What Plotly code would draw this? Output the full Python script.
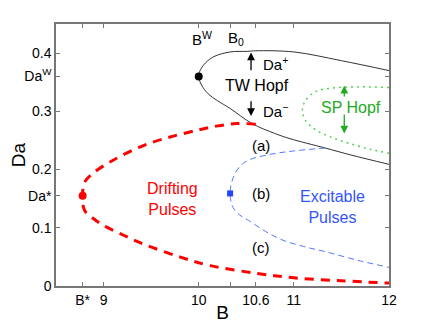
import plotly.graph_objects as go

# TW Hopf curve (black), from the upper right round the nose to the lower right
tw_b = [12.0, 11.5, 11.0, 10.6, 10.51, 10.33, 10.16, 10.07, 10.02, 10.0,
        10.03, 10.1, 10.2, 10.33, 10.56, 10.8, 10.96, 11.33, 11.6, 12.0]
tw_da = [0.370, 0.387, 0.402, 0.404, 0.403, 0.402, 0.394, 0.383, 0.372, 0.360,
         0.345, 0.330, 0.318, 0.305, 0.279, 0.262, 0.253, 0.237, 0.225, 0.209]

# drifting pulses boundary (red)
red_b = [10.6, 10.4, 10.2, 10.0, 9.7, 9.4, 9.1, 8.9, 8.8, 8.78,
         8.8, 8.9, 9.0, 9.2, 9.42, 9.8, 10.12, 10.6, 11.0, 11.5, 12.0]
red_da = [0.278, 0.279, 0.275, 0.268, 0.256, 0.240, 0.216, 0.195, 0.178, 0.155,
          0.130, 0.115, 0.104, 0.088, 0.072, 0.050, 0.035, 0.022, 0.014, 0.009, 0.005]

# excitable pulses boundary (blue)
blue_b = [11.33, 11.0, 10.75, 10.52, 10.43, 10.36, 10.33,
          10.36, 10.43, 10.52, 10.7, 10.88, 11.1, 11.33, 11.7, 12.0]
blue_da = [0.237, 0.232, 0.226, 0.216, 0.205, 0.185, 0.159,
           0.135, 0.122, 0.113, 0.094, 0.079, 0.068, 0.059, 0.043, 0.032]

# SP Hopf curve (green)
sp_b = [12.0, 11.7, 11.4, 11.23, 11.12, 11.09, 11.12, 11.23, 11.4, 11.58, 11.8, 12.0]
sp_da = [0.341, 0.342, 0.340, 0.334, 0.318, 0.302, 0.285, 0.268, 0.255, 0.245, 0.235, 0.228]

# special points
b_w, da_w = 10.0, 0.36
b_star, da_star = 8.78, 0.155
b_exc, da_exc = 10.33, 0.159

x_ticks = [8.78, 9, 10, 10.33, 10.6, 11, 12]
x_labels = ["B*", "9", "10", "", "10.6", "11", "12"]
y_ticks = [0, 0.1, 0.155, 0.2, 0.3, 0.36, 0.4]
y_labels = ["0", "0.1", "Da*", "0.2", "0.3", "Da<sup>W</sup>", "0.4"]

fig = go.Figure()
fig.add_trace(go.Scatter(x=tw_b, y=tw_da, mode="lines",
                         line=dict(color="#333333", width=1), line_shape="spline"))
fig.add_trace(go.Scatter(x=red_b, y=red_da, mode="lines", line_shape="spline",
                         line=dict(color="#ff0000", width=3, dash="9px,7px")))
fig.add_trace(go.Scatter(x=blue_b, y=blue_da, mode="lines", line_shape="spline",
                         line=dict(color="#5577ff", width=1, dash="6px,4px")))
fig.add_trace(go.Scatter(x=sp_b, y=sp_da, mode="lines", line_shape="spline",
                         line=dict(color="#55d055", width=1.5, dash="2px,4px")))
fig.add_trace(go.Scatter(x=[b_w], y=[da_w], mode="markers",
                         marker=dict(color="black", size=8)))
fig.add_trace(go.Scatter(x=[b_star], y=[da_star], mode="markers",
                         marker=dict(color="#ff0000", size=8)))
fig.add_trace(go.Scatter(x=[b_exc], y=[da_exc], mode="markers",
                         marker=dict(color="#2244ff", size=6, symbol="square")))

font = dict(family="Liberation Sans, Arial, sans-serif", size=16, color="black")

# arrows
arrows = [
    (10.55, 0.368, 10.55, 0.401, "black"),
    (10.55, 0.320, 10.55, 0.292, "black"),
    (11.53, 0.323, 11.53, 0.344, "#22aa22"),
    (11.53, 0.297, 11.53, 0.262, "#22aa22"),
]
for x0, y0, x1, y1, c in arrows:
    fig.add_annotation(x=x1, y=y1, ax=x0, ay=y0, xref="x", yref="y", axref="x", ayref="y",
                       text="", showarrow=True, arrowhead=2, arrowsize=1.2,
                       arrowwidth=1.3, arrowcolor=c)

labels = [
    (10.65, 0.383, "Da<sup>+</sup>", "left", "black", 15),
    (10.65, 0.302, "Da<sup>−</sup>", "left", "black", 15),
    (10.61, 0.344, "TW Hopf", "center", "black", 16),
    (11.6, 0.306, "SP Hopf", "center", "#22aa22", 16),
    (10.65, 0.241, "(a)", "center", "black", 15),
    (10.65, 0.159, "(b)", "center", "black", 15),
    (10.65, 0.066, "(c)", "center", "black", 15),
    (9.72, 0.149, "Drifting<br>Pulses", "center", "#ff0000", 16),
    (11.41, 0.135, "Excitable<br>Pulses", "center", "#3355ff", 16),
    (10.03, 0.425, "B<sup>W</sup>", "center", "black", 15),
    (10.39, 0.425, "B<sub>0</sub>", "center", "black", 15),
]
for x, y, t, anchor, c, s in labels:
    fig.add_annotation(x=x, y=y, text=t, showarrow=False, xanchor=anchor,
                       font=dict(family=font["family"], size=s, color=c))

axis_style = dict(showline=True, linecolor="#777777", linewidth=1.5, mirror="ticks",
                  ticks="inside", ticklen=4, tickcolor="#777777", showgrid=False,
                  zeroline=False, tickfont=dict(size=14), automargin=False)

fig.update_xaxes(range=[8.5, 12], tickvals=x_ticks, ticktext=x_labels,
                 title=dict(text="B", standoff=2), **axis_style)
fig.update_yaxes(range=[0, 0.45], tickvals=y_ticks, ticktext=y_labels,
                 title=dict(text="Da", standoff=6), **axis_style)

# the page body adds 8px on the left and top, so the figure is a little smaller
fig.update_layout(width=421, height=315, showlegend=False, font=font,
                  plot_bgcolor="white", paper_bgcolor="white",
                  margin=dict(l=48, r=40, t=16, b=37))

fig.write_html("out.html")
